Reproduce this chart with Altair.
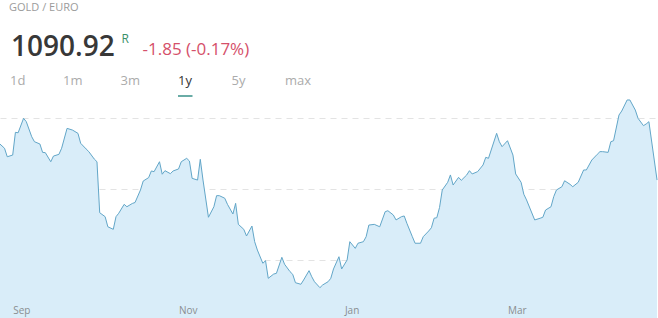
import altair as alt
import pandas as pd

# ---- data ----
dates = [
    "2015-08-27", "2015-08-29", "2015-08-30", "2015-09-01", "2015-09-02", "2015-09-03",
    "2015-09-05", "2015-09-06", "2015-09-08", "2015-09-09", "2015-09-11", "2015-09-12",
    "2015-09-13", "2015-09-15", "2015-09-16", "2015-09-18", "2015-09-19", "2015-09-21",
    "2015-09-23", "2015-09-25", "2015-09-26", "2015-09-28", "2015-09-29", "2015-10-01",
    "2015-10-02", "2015-10-03", "2015-10-05", "2015-10-06", "2015-10-08", "2015-10-09",
    "2015-10-10", "2015-10-12", "2015-10-13", "2015-10-15", "2015-10-16", "2015-10-18",
    "2015-10-19", "2015-10-21", "2015-10-22", "2015-10-23", "2015-10-25", "2015-10-26",
    "2015-10-27", "2015-10-29", "2015-10-30", "2015-11-01", "2015-11-02", "2015-11-04",
    "2015-11-05", "2015-11-06", "2015-11-08", "2015-11-09", "2015-11-10", "2015-11-12",
    "2015-11-14", "2015-11-15", "2015-11-16", "2015-11-18", "2015-11-19", "2015-11-21",
    "2015-11-22", "2015-11-23", "2015-11-25", "2015-11-26", "2015-11-28", "2015-11-29",
    "2015-11-30", "2015-12-02", "2015-12-03", "2015-12-04", "2015-12-06", "2015-12-07",
    "2015-12-09", "2015-12-10", "2015-12-12", "2015-12-13", "2015-12-14", "2015-12-16",
    "2015-12-17", "2015-12-19", "2015-12-20", "2015-12-21", "2015-12-23", "2015-12-24",
    "2015-12-26", "2015-12-27", "2015-12-28", "2015-12-30", "2015-12-31", "2016-01-02",
    "2016-01-03", "2016-01-05", "2016-01-06", "2016-01-08", "2016-01-09", "2016-01-10",
    "2016-01-12", "2016-01-14", "2016-01-16", "2016-01-17", "2016-01-19", "2016-01-20",
    "2016-01-22", "2016-01-23", "2016-01-24", "2016-01-26", "2016-01-27", "2016-01-29",
    "2016-01-30", "2016-02-01", "2016-02-02", "2016-02-03", "2016-02-04", "2016-02-05",
    "2016-02-06", "2016-02-08", "2016-02-09", "2016-02-10", "2016-02-12", "2016-02-13",
    "2016-02-15", "2016-02-16", "2016-02-17", "2016-02-19", "2016-02-21", "2016-02-22",
    "2016-02-23", "2016-02-26", "2016-02-27", "2016-02-28", "2016-03-01", "2016-03-03",
    "2016-03-04", "2016-03-06", "2016-03-07", "2016-03-08", "2016-03-11", "2016-03-13",
    "2016-03-14", "2016-03-15", "2016-03-17", "2016-03-18", "2016-03-19", "2016-03-21",
    "2016-03-22", "2016-03-24", "2016-03-25", "2016-03-27", "2016-03-29", "2016-03-30",
    "2016-04-01", "2016-04-03", "2016-04-04", "2016-04-05", "2016-04-07", "2016-04-08",
    "2016-04-09", "2016-04-11", "2016-04-12", "2016-04-14", "2016-04-15", "2016-04-17",
    "2016-04-18", "2016-04-20", "2016-04-21", "2016-04-22", "2016-04-25",
]
prices = [
    1082.2, 1078.7, 1072.7, 1073.9, 1089.9, 1089.6,
    1099.8, 1097.4, 1086.8, 1083.3, 1081.7, 1075.8,
    1075.6, 1069.2, 1073.2, 1074.4, 1078.7, 1092.7,
    1091.5, 1089.2, 1082.2, 1078.2, 1076.3, 1071.1,
    1069.2, 1033.3, 1030.5, 1023.4, 1021.6, 1030.5,
    1032.9, 1039.2, 1037.5, 1039.8, 1040.5, 1049.3,
    1055.6, 1058.0, 1062.7, 1062.2, 1069.2, 1060.4,
    1062.9, 1060.8, 1062.7, 1064.1, 1069.2, 1071.6,
    1069.7, 1057.5, 1056.3, 1070.9, 1056.3, 1030.1,
    1037.5, 1045.3, 1045.3, 1043.5, 1039.2, 1032.4,
    1039.9, 1025.1, 1021.6, 1016.9, 1023.9, 1012.9,
    1007.0, 997.7, 999.5, 987.1, 990.1, 990.6,
    1001.9, 997.0, 991.8, 989.9, 984.0, 982.9,
    985.9, 992.5, 988.2, 984.7, 980.5, 982.4,
    984.7, 987.1, 993.7, 1002.3, 993.7, 1000.0,
    1012.9, 1008.2, 1011.8, 1012.9, 1016.4, 1024.6,
    1025.1, 1023.4, 1034.0, 1034.7, 1031.7, 1028.2,
    1030.5, 1031.0, 1025.8, 1016.4, 1011.8, 1011.8,
    1016.4, 1020.4, 1022.7, 1029.4, 1029.8, 1037.0,
    1049.3, 1054.7, 1059.9, 1052.8, 1058.2, 1056.1,
    1059.9, 1062.9, 1060.6, 1062.2, 1066.9, 1072.3,
    1071.6, 1089.2, 1083.3, 1079.8, 1084.0, 1073.9,
    1060.6, 1054.7, 1046.3, 1042.3, 1028.2, 1029.4,
    1030.1, 1035.2, 1037.5, 1044.6, 1049.3, 1051.6,
    1055.8, 1053.3, 1051.6, 1054.7, 1063.4, 1063.4,
    1070.4, 1074.4, 1076.3, 1076.3, 1075.8, 1083.3,
    1084.0, 1102.1, 1104.9, 1112.7, 1112.7, 1105.6,
    1099.8, 1094.6, 1095.8, 1097.4, 1056.3,
]
grid_values = [1000, 1050, 1100]
y_domain = [959.15, 1183.1]

title_text = "GOLD / EURO"
price_text = "1090.92"
flag_text = "R"
change_text = "-1.85 (-0.17%)"
tabs = ["1d", "1m", "3m", "1y", "5y", "max"]
active_tab = "1y"

FONT = "Open Sans"
LINE = "#62a6c8"
FILL = "#d9edf9"

df = pd.DataFrame({"date": dates, "price": prices})

x_domain = [
    alt.DateTime(year=2015, month=8, date=27, hours=8, utc=True),
    alt.DateTime(year=2016, month=4, date=25, hours=8, minutes=24, utc=True),
]
month_ticks = [
    alt.DateTime(year=2015, month=9, date=1, utc=True),
    alt.DateTime(year=2015, month=11, date=1, utc=True),
    alt.DateTime(year=2016, month=1, date=1, utc=True),
    alt.DateTime(year=2016, month=3, date=1, utc=True),
]

area = alt.Chart(df).mark_area(
    color=FILL, opacity=1,
    line=alt.OverlayMarkDef(color=LINE, strokeWidth=1),
).encode(
    x=alt.X("date:T", title="",
            scale=alt.Scale(type="utc", domain=x_domain, nice=False),
            axis=alt.Axis(values=month_ticks, format="%b", grid=False, domain=False,
                          ticks=False, labelAlign="left", labelBaseline="alphabetic",
                          labelPadding=-5, labelFont=FONT, labelFontSize=10,
                          labelColor="#8a8d90", labelFlush=False, labelOverlap=False,
                          zindex=1)),
    y=alt.Y("price:Q", title="",
            scale=alt.Scale(domain=y_domain, nice=False, zero=False),
            axis=alt.Axis(values=grid_values, labels=False, ticks=False, domain=False,
                          grid=True, gridDash=[6, 5], gridColor="#e3e3e3", gridWidth=1)),
)

def label(text, x, y, size, color, weight="normal"):
    return alt.Chart(pd.DataFrame({"t": [text]})).mark_text(
        align="left", baseline="alphabetic", font=FONT, fontSize=size,
        color=color, fontWeight=weight,
    ).encode(x=alt.value(x), y=alt.value(y), text="t:N")

layers = [area,
          label(title_text, 9, 10.7, 11, "#9b9b9b"),
          label(price_text, 11, 56, 28, "#383838", 600),
          label(flag_text, 121.5, 43.3, 12, "#3a8f68"),
          label(change_text, 142.5, 55, 17, "#d5506a")]

tab_x = [10, 63, 120.5, 178, 231.5, 285]
for t, tx in zip(tabs, tab_x):
    layers.append(label(t, tx, 85, 13, "#333333" if t == active_tab else "#ababab"))

underline = alt.Chart(pd.DataFrame({"t": [active_tab]})).mark_rule(
    color="#6aaca6", strokeWidth=2
).encode(x=alt.value(178), x2=alt.value(192.5), y=alt.value(96))
layers.append(underline)

chart = alt.layer(*layers).properties(
    width=658, height=318,
    autosize=alt.AutoSizeParams(type="none"),
    padding=0,
).configure_view(stroke="transparent")

chart.save("out.html", embed_options={"renderer": "svg", "actions": False})
